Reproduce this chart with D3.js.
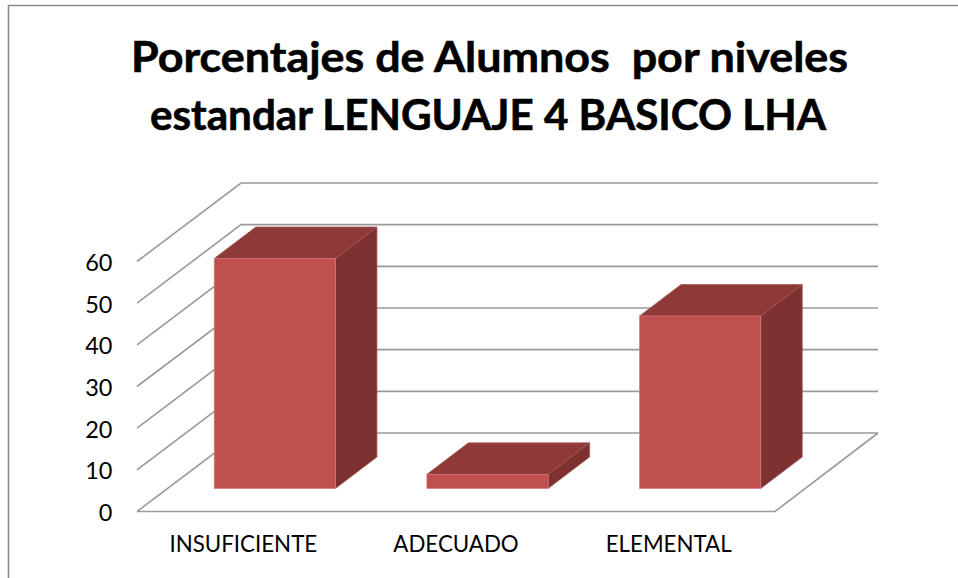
<!DOCTYPE html>
<html><head><meta charset="utf-8">
<script src="https://cdn.jsdelivr.net/npm/d3@7"></script>
<style>html,body{margin:0;padding:0;background:#fff}svg{display:block}text{font-family:Lato,"Open Sans",sans-serif;fill:#000}</style>
</head><body><svg id="c" width="958" height="578"></svg>
<script>
const categories = ["INSUFICIENTE", "ADECUADO", "ELEMENTAL"];
const values = [55.2, 3.4, 41.4];
const yTicks = [0, 10, 20, 30, 40, 50, 60];
const titleLines = ["Porcentajes de Alumnos  por niveles", "estandar LENGUAJE 4 BASICO LHA"];

const svg = d3.select("#c");
svg.append("path").attr("d", "M8.5,578V5.5H958").attr("fill", "none").attr("stroke", "#8c8c8c").attr("stroke-width", 1.6);

const titleWidths = [717, 676];
svg.selectAll("text.title").data(titleLines).join("text").attr("class", "title")
  .attr("x", (d, i) => i ? 488 : 489.5).attr("y", (d, i) => 72 + i * 57.5).attr("text-anchor", "middle")
  .attr("font-size", 42.5).attr("font-weight", 700).style("white-space", "pre")
  .attr("stroke", "#000").attr("stroke-width", 0.6)
  .attr("textLength", (d, i) => titleWidths[i]).attr("lengthAdjust", "spacingAndGlyphs").text(d => d);

const y = d3.scaleLinear().domain([0, 60]).range([511.5, 261.5]);
const x = d3.scaleBand().domain(categories).range([137, 775]).paddingInner(0.43).paddingOuter(0.215);
const xLab = d3.scaleBand().domain(categories).range([137, 775]);
const wall = { dx: 104, dy: -78.5 };
const bar = { fx: 31.5, fy: -23, dx: 41.5, dy: -31.5 };
const gridColor = "#9a9a9a";

const g = svg.append("g").attr("fill", "none").attr("stroke", gridColor).attr("stroke-width", 1.6);
yTicks.forEach(t => {
  g.append("path").attr("d", `M${x.range()[0]},${y(t)}l${wall.dx},${wall.dy}H878`);
});
g.append("path").attr("d", `M137,${y(0)}H775L878,${y(0) + wall.dy}`);

const bars = svg.append("g").selectAll("g").data(categories).join("g");
const pts = a => a.map(p => p.join(",")).join(" ");
bars.each(function (c, i) {
  const s = d3.select(this), w = x.bandwidth();
  const x0 = x(c) + bar.fx, x1 = x0 + w;
  const yb = y(0) + bar.fy, yt = y(values[i]) + bar.fy;
  s.append("polygon").attr("points", pts([[x1, yb], [x1 + bar.dx, yb + bar.dy], [x1 + bar.dx, yt + bar.dy], [x1, yt]]))
    .attr("fill", "#7d3130").attr("stroke", "#a35555").attr("stroke-width", 0.7);
  s.append("polygon").attr("points", pts([[x0, yt], [x0 + bar.dx, yt + bar.dy], [x1 + bar.dx, yt + bar.dy], [x1, yt]]))
    .attr("fill", "#8f3938").attr("stroke", "#a35555").attr("stroke-width", 0.7);
  s.append("rect").attr("x", x0).attr("y", yt).attr("width", w).attr("height", yb - yt)
    .attr("fill", "#c0504d").attr("stroke", "#d57a77").attr("stroke-width", 0.7);
});

const yAxis = d3.axisLeft(y).tickValues(yTicks).tickSize(0).tickPadding(0);
svg.append("g").attr("transform", "translate(112.5,0.5)").call(yAxis)
  .call(a => a.select(".domain").remove())
  .selectAll("text").attr("font-size", 23.5).attr("dy", "0.36em").style("font-family", "Lato");
const xAxis = d3.axisBottom(xLab).tickSize(0).tickPadding(0);
svg.append("g").attr("transform", "translate(0,536.5)").call(xAxis)
  .call(a => a.select(".domain").remove())
  .selectAll("text").attr("font-size", 22.3).attr("dy", "0.71em").style("font-family", "Lato");
</script></body></html>
